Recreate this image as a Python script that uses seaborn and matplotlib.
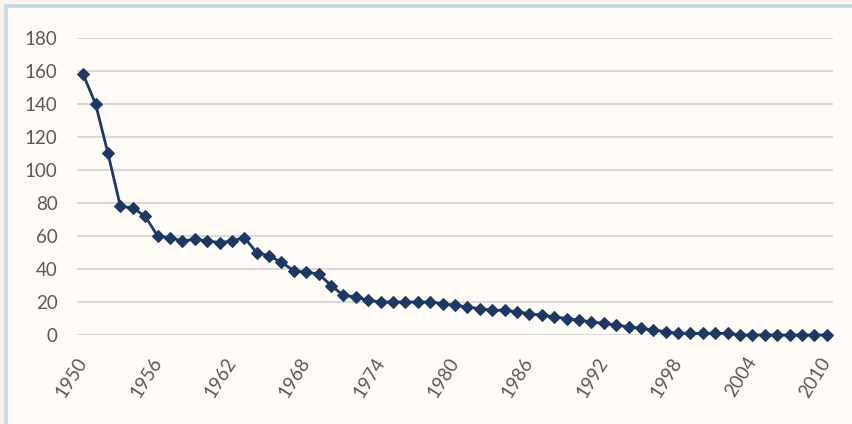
import pandas as pd
import matplotlib.pyplot as plt
import seaborn as sns
from matplotlib.patches import Rectangle

## data
years = list(range(1950, 2011))
values = [158, 140, 110, 78, 77, 72, 60, 59, 57, 58,
          57, 56, 57, 59, 50, 48, 44, 39, 38, 37,
          30, 24, 23, 21, 20, 20, 20, 20, 20, 19,
          18, 17, 16, 15, 15, 14, 13, 12, 11, 10,
          9, 8, 7, 6, 5, 4, 3, 2, 1, 1,
          1, 1, 1, 0, 0, 0, 0, 0, 0, 0, 0]
tick_years = list(range(1950, 2011, 6))
y_ticks = list(range(0, 181, 20))

df = pd.DataFrame({'year': years, 'value': values})

sns.set_style('white')
plt.rcParams['font.family'] = ['Lato', 'DejaVu Sans']

W, H = 852, 424
fig = plt.figure(figsize=(W / 100, H / 100), dpi=100, facecolor='#FCF4EB')

# chart area with light blue frame (runs off the right / bottom edges)
fig.patches.append(Rectangle((5.5 / W, -20 / H), (W + 40) / W, (H - 5.5 + 20) / H,
                             transform=fig.transFigure, facecolor='#FFFCF8',
                             edgecolor='#C4D9E5', linewidth=2.6, zorder=-5))

ax = fig.add_axes([77 / W, (H - 335) / H, (833 - 77) / W, (335 - 38) / H])
ax.set_facecolor('none')

sns.lineplot(data=df, x='year', y='value', ax=ax, color='#1F3763',
             linewidth=2.0, marker='D', markersize=6.5,
             markeredgecolor='#1F3763', clip_on=False, zorder=3)

ax.set_xlim(1949.5, 2010.5)
ax.set_ylim(0, 180)
ax.set_yticks(y_ticks)
ax.set_xticks(tick_years)
ax.set_xticklabels([str(y) for y in tick_years], rotation=58, ha='right',
                   va='center', rotation_mode='anchor')
ax.tick_params(axis='both', length=0, labelsize=13.5, labelcolor='#595959')
ax.tick_params(axis='x', pad=17)
ax.tick_params(axis='y', pad=14)
ax.yaxis.grid(True, color='#D9D9D9', linewidth=1.5)
ax.set_axisbelow(True)
ax.set_xlabel('')
ax.set_ylabel('')
for s in ax.spines.values():
    s.set_visible(False)

plt.savefig('out.png', dpi=100, facecolor=fig.get_facecolor())
